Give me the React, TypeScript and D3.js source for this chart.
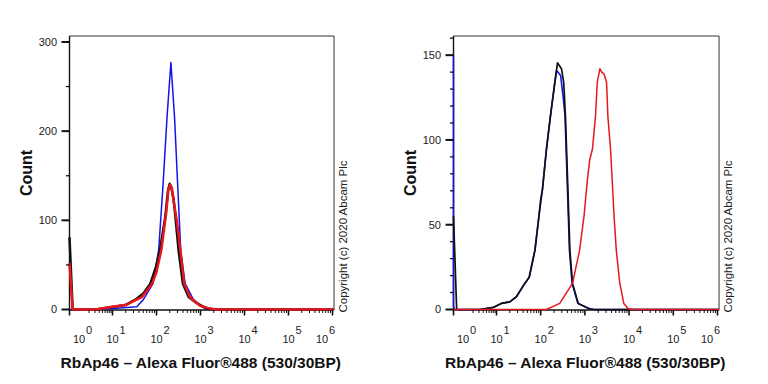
import React from 'react'
import * as d3 from 'd3'

// x values are log10 of fluorescence intensity; -0.3 is the left end of the axis (near 0)
const X_MIN = -0.3
const X_MAX = 6.035
const decadeLabels = [0, 1, 2, 3, 4, 5, 6]
const minorFactors = [2, 3, 4, 5, 6, 7, 8, 9]

const xTitle = 'RbAp46 \u2013 Alexa Fluor\u00ae488 (530/30BP)'
const yTitle = 'Count'
const copyright = 'Copyright (c) 2020 Abcam Plc'

// left panel
const leftYMax = 306.7
const leftYMajor = [0, 100, 200, 300]
const leftYMinorStep = 50

const leftBlueX = [-0.3, 0.5, 1.0, 1.25, 1.55, 1.7, 1.92, 2.05, 2.15, 2.24, 2.327, 2.41, 2.48, 2.55, 2.65, 2.84, 3.07, 3.2, 6.035]
const leftBlueY = [0, 0, 1, 2, 3, 11, 29, 67, 141, 216, 277, 216, 141, 67, 29, 11, 2, 0, 0]

const leftBlackX = [-0.3, -0.2, 0.5, 1.02, 1.29, 1.52, 1.7, 1.86, 1.99, 2.08, 2.2, 2.26, 2.3, 2.34, 2.39, 2.43, 2.5, 2.6, 2.73, 2.92, 3.15, 3.3, 6.035]
const leftBlackY = [81, 0, 0, 3, 5, 11, 18, 29, 48, 67, 104, 133, 141, 136, 123, 104, 67, 29, 14, 7, 1, 0, 0]

const leftRedX = [-0.3, -0.2, 0.5, 1.0, 1.3, 1.5, 1.67, 1.9, 2.0, 2.11, 2.22, 2.27, 2.31, 2.35, 2.4, 2.46, 2.54, 2.63, 2.75, 2.84, 3.0, 3.22, 3.35, 6.035]
const leftRedY = [52, 0, 0, 3, 5, 10, 14, 29, 42, 67, 108, 134, 140, 136, 118, 100, 67, 29, 15, 10, 4, 1, 0, 0]

// right panel
const rightYMax = 161.3
const rightYMajor = [0, 50, 100, 150]
const rightYMinorStep = 10

const rightBlueX = [-0.3, -0.3, -0.27, 0.5, 0.9, 1.11, 1.3, 1.45, 1.64, 1.74, 1.87, 1.96, 2.04, 2.13, 2.22, 2.32, 2.36, 2.45, 2.51, 2.55, 2.6, 2.65, 2.71, 2.84, 3.1, 3.2, 6.035]
const rightBlueY = [150, 2, 0, 0, 1.2, 3.6, 4.5, 7.5, 15.4, 19, 35, 55, 70.8, 94.5, 114, 134, 141, 138, 125, 114, 75, 35, 15.4, 3.6, 0.5, 0, 0]

const rightBlackX = [-0.3, -0.2, 0.5, 0.9, 1.11, 1.3, 1.45, 1.64, 1.74, 1.87, 1.96, 2.0, 2.04, 2.13, 2.22, 2.32, 2.38, 2.47, 2.52, 2.56, 2.61, 2.66, 2.72, 2.85, 3.11, 3.2, 6.035]
const rightBlackY = [55, 0, 0, 1.2, 3.6, 4.5, 7.5, 15.4, 19, 35, 55, 65, 70.8, 94.5, 114, 134, 145.5, 142, 134, 114, 75, 35, 15.4, 3.6, 0.3, 0, 0]

const rightRedX = [-0.3, 2.13, 2.43, 2.72, 2.88, 2.98, 3.05, 3.11, 3.17, 3.24, 3.28, 3.34, 3.38, 3.43, 3.49, 3.52, 3.58, 3.62, 3.66, 3.71, 3.79, 3.88, 3.98, 4.1, 6.035]
const rightRedY = [0, 0, 3.6, 15.4, 35, 55, 75, 88.5, 94.5, 114, 134, 142, 140, 139, 134, 114, 94.5, 75, 55, 35, 15.4, 3.6, 0.5, 0, 0]

const BLUE = '#1414e6'
const BLACK = '#111111'
const RED = '#e8161b'

type Series = { xs: number[]; ys: number[]; color: string; width: number }

const FONT = '"Liberation Sans", Arial, sans-serif'
const TOP = 36
const BOTTOM = 309.5

function Panel({ left, decade, yMax, yMajor, yMinorStep, series }: {
  left: number; decade: number; yMax: number; yMajor: number[]; yMinorStep: number; series: Series[]
}) {
  const x = d3.scaleLinear()
    .domain([X_MIN, 0, 1, X_MAX])
    .range([left, left + 9.5, left + 43, left + 43 + (X_MAX - 1) * decade])
  const y = d3.scaleLinear().domain([0, yMax]).range([BOTTOM, TOP])
  const right = x(X_MAX)
  const line = d3.line<[number, number]>().x(d => x(d[0])).y(d => y(d[1]))

  const yMinor = d3.range(0, yMax, yMinorStep).filter(v => !yMajor.includes(v))
  const xMinor: number[] = []
  for (let dcd = 0; dcd < 6; dcd++) {
    minorFactors.forEach(f => xMinor.push(dcd + Math.log10(f)))
  }
  const xMajor = [X_MIN, 1, 2, 3, 4, 5, 6]
  const axisY = BOTTOM + 0.5

  return (
    <g>
      {/* frame */}
      <path d={`M${left},${TOP} H${right} V${axisY}`} fill="none" stroke="#333" strokeWidth={1} />
      <line x1={left} x2={left} y1={TOP} y2={axisY} stroke="#111" strokeWidth={1.4} />
      <line x1={left} x2={right} y1={axisY} y2={axisY} stroke="#111" strokeWidth={1.4} />
      {series.map((s, i) => (
        <path key={i} d={line(s.xs.map((v, j) => [v, s.ys[j]] as [number, number])) || ''}
          fill="none" stroke={s.color} strokeWidth={s.width} strokeLinejoin="round" />
      ))}
      {/* y ticks */}
      {yMajor.map(v => (
        <g key={'ym' + v}>
          <line x1={left - 8} x2={left} y1={y(v)} y2={y(v)} stroke="#111" strokeWidth={2} />
          <text x={left - 12.5} y={y(v)} dy="0.36em" textAnchor="end" fontSize={11} fill="#222"
            fontFamily={FONT}>{v}</text>
        </g>
      ))}
      {yMinor.map(v => (
        <line key={'yn' + v} x1={left - 3.5} x2={left} y1={y(v)} y2={y(v)} stroke="#111" strokeWidth={1.3} />
      ))}
      {/* x ticks */}
      {xMajor.map(v => (
        <line key={'xm' + v} x1={x(v)} x2={x(v)} y1={axisY} y2={axisY + 5.5} stroke="#111" strokeWidth={1.6} />
      ))}
      {xMinor.map((v, i) => (
        <line key={'xn' + i} x1={x(v)} x2={x(v)} y1={axisY} y2={axisY + 3} stroke="#111" strokeWidth={1} />
      ))}
      {decadeLabels.map(dcd => {
        const cx = x(dcd) - (dcd === 6 ? 10.5 : 0)
        return (
          <g key={'xl' + dcd} fontFamily={FONT} fill="#222">
            <text x={cx} y={343} textAnchor="middle" fontSize={11}>10</text>
            <text x={cx + 10} y={334} textAnchor="middle" fontSize={11}>{dcd}</text>
          </g>
        )
      })}
      {/* titles */}
      <text x={(left + right) / 2 - 1} y={367.5} textAnchor="middle" fontSize={15.5} fontWeight="bold"
        fontFamily={FONT} fill="#111">{xTitle}</text>
      <text transform={`translate(${left - 38},173) rotate(-90)`} textAnchor="middle" fontSize={16}
        fontWeight="bold" fontFamily={FONT} fill="#111">{yTitle}</text>
      <text transform={`translate(${right + 13},236.5) rotate(-90)`} textAnchor="middle" fontSize={11.5}
        fontFamily={FONT} fill="#222">{copyright}</text>
    </g>
  )
}

export default function App() {
  const leftSeries: Series[] = [
    { xs: leftBlueX, ys: leftBlueY, color: BLUE, width: 1.5 },
    { xs: leftBlackX, ys: leftBlackY, color: BLACK, width: 2.5 },
    { xs: leftRedX, ys: leftRedY, color: RED, width: 2.5 },
  ]
  const rightSeries: Series[] = [
    { xs: rightBlueX, ys: rightBlueY, color: BLUE, width: 1.6 },
    { xs: rightBlackX, ys: rightBlackY, color: BLACK, width: 1.7 },
    { xs: rightRedX, ys: rightRedY, color: RED, width: 1.5 },
  ]
  return (
    <svg width={768} height={384} style={{ position: 'absolute', left: 0, top: 0, background: '#fff' }}>
      <rect width={768} height={384} fill="#fff" />
      <Panel left={69.5} decade={44} yMax={leftYMax} yMajor={leftYMajor} yMinorStep={leftYMinorStep}
        series={leftSeries} />
      <Panel left={453.5} decade={44.2} yMax={rightYMax} yMajor={rightYMajor} yMinorStep={rightYMinorStep}
        series={rightSeries} />
    </svg>
  )
}
